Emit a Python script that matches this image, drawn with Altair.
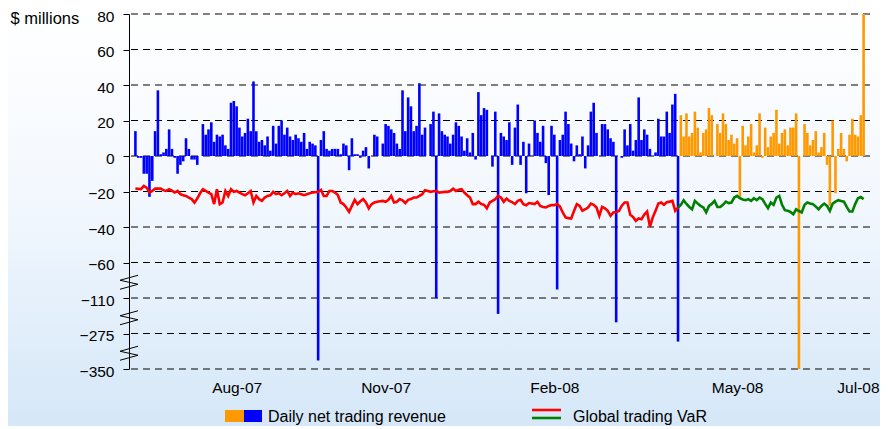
import altair as alt
import pandas as pd

# Daily net trading revenue ($ millions), one value per trading day
revenue = [
    14, -1, -1, -10, -10, -23, -14, 14, 37,
    1, 2, 4, 15, 4, -1, -10, -5, -3, 10,
    4, -2, -2, -5, 0, 18, 12, 15, 19, 8,
    12, 11, 12, 6, 4, 30, 31, 28, 16, 11,
    13, 21, 14, 42, 14, 8, 9, 6, 11, 3,
    17, 7, 17, 20, 12, 16, 11, 9, 12, 10,
    8,
    13, 4, 8, 7, 6, -332, 9, 14, 4, 3,
    4, 4, 4, 1, 7, 6, -8, 10, 1, 1,
    -1, 3, 5, -7, 0, 12, 11, 0, 7, 18,
    17, 15, 13, 7, 4, 37, 14, 33, 28, 14,
    17, 41, 12, 16, 0, 18, 25, -111, 24, 14,
    12, 11, 7, 12, 19, 17, 11, 3, 10, 2,
    13, -2, 36, 23, 27, 26, 0, -6, 25, -184,
    13, 11, 9, 19, -5, 16, 29, -5, 8, -21,
    7, 0, 20, 13, 8, 17, -4, -22, 17, 12,
    -98, 9, 12, 25, 18, 7, -3, 6, 1, 11,
    -7, 6, 25, 30, 13,
    0, 18, 18, 15, 10, 8, -223, 0, -1, 15,
    6, 18, 3, 9, 33, 9, 15, 12, 4, 0,
    2, 21, 11, 11, 25, 13, 29, 35, -292,
    23, 11, 24, 11, 13, 25, 16, 2, 13, 15,
    27, 23, 0, 18, 13, 24, 18, 9, 12, 7,
    10, -24, 17, 6, 11, 18, 2, 6, 24, -1,
    16, 5, 11, 13, 26, 7, 13, 15, 6, 16,
    16, 24, -350, 0, 18, 13, 6, 9, 14, 2,
    5, 13, -5, -28, 20, -21, 4, 13, 4, -3,
    12, 21, 12, 11, 23, 80,
]

# Global trading VaR ($ millions), one value per trading day
var = [
    -18.4, -18.5, -18.7, -16.9, -17.8, -20.6, -19.7, -18.4, -18.4, -18.4,
    -19.3, -19.7, -18.7, -19.5, -20.6, -19.7, -21.5, -22.1, -22.5, -23.4,
    -24.3, -26.2, -24.0, -21.0, -18.7, -19.7, -20.6, -21.5, -27.1, -18.7,
    -27.1, -26.2, -19.7, -22.5, -18.7, -20.2, -19.7, -20.6, -21.5, -22.1,
    -21.0, -19.7, -26.2, -22.5, -24.3, -25.3, -23.4, -22.5, -22.1, -20.2,
    -21.5, -21.0, -22.1, -21.0, -19.7, -22.5, -20.6, -21.5, -21.0, -21.5,
    -22.1, -21.5, -21.0, -20.6, -20.4, -20.2, -19.1, -22.5, -22.5, -19.7,
    -19.7, -20.6, -22.0, -26.2, -27.1, -29.0, -31.5, -28.1, -24.7, -27.1,
    -25.5, -24.3, -26.2, -29.5, -27.1, -26.2, -25.8, -25.5, -25.3, -25.8,
    -24.7, -22.5, -26.2, -25.8, -24.3, -25.0, -26.5, -24.7, -24.3, -23.4,
    -23.4, -22.5, -21.5, -19.3, -19.7, -20.2, -19.9, -19.7, -20.6, -20.4,
    -20.2, -20.2, -19.7, -18.4, -19.7, -19.0, -18.7, -20.6, -22.1, -23.4,
    -27.1, -27.1, -25.8, -27.1, -27.5, -29.5, -26.2, -25.3, -24.3,
    -22.5, -23.4, -25.8, -24.0, -25.3, -26.0, -27.1, -25.3, -24.7, -27.1,
    -27.7, -26.5, -26.8, -27.1, -25.8, -28.1, -28.7, -29.0, -28.1, -27.7,
    -27.7, -27.1, -28.5, -31.8, -34.6, -35.0, -35.2, -31.0, -27.1, -28.1,
    -30.9, -30.0, -29.0, -26.8, -27.5, -29.0, -33.7, -28.7, -29.5, -30.9,
    -33.7, -31.8, -31.5, -30.9, -28.0, -26.2, -26.2, -33.1, -34.3, -36.5,
    -35.2, -35.6, -33.0, -31.3, -39.9, -34.6, -30.9, -26.8, -26.2, -27.5,
    -26.0, -25.7, -25.3, -30.9, -29.0, -27.5, -24.9, -27.0, -28.7, -30.0,
    -25.3, -26.8, -28.1, -29.0, -31.8, -28.1, -27.0, -25.3, -28.7, -28.7,
    -27.5, -25.7, -26.5, -26.2, -23.4, -22.5, -23.8, -24.5, -24.9, -24.3,
    -25.3, -23.8, -24.9, -23.4, -24.3, -27.0, -29.4, -26.2, -27.5, -23.4,
    -22.5, -27.5, -30.5, -30.9, -31.5, -32.8, -30.0, -31.0, -31.8, -27.5,
    -26.2, -26.8, -27.1, -28.5, -30.0, -28.1, -26.8, -28.1, -30.9, -26.8,
    -25.7, -24.9, -25.3, -25.7, -28.7, -31.3, -31.3, -27.1, -23.8, -23.1,
    -24.3,
]

n_blue = 194  # trading days in the first (blue / red) period
tick_idx = [36, 89, 149, 214, 257]
tick_labels = ["Aug-07", "Nov-07", "Feb-08", "May-08", "Jul-08"]
y_ticks = [80, 60, 40, 20, 0, -20, -40, -60, -110, -275, -350]
y_knots = [-350, -275, -110, -60, 80]
breaks = [(-60, -110), (-110, -275), (-275, -350)]
legend_labels = ["Daily net trading revenue", "Global trading VaR"]

N = len(revenue)
W, H = 741, 355
PAD = {"left": 121, "top": 6, "right": 10, "bottom": 57}
step = H / 10.0
y_range = [H, H - step, H - 2 * step, H - 3 * step, 0]
FONT = "Liberation Sans"

days = list(range(N))
bars_df = pd.DataFrame({
    "day": days,
    "rev": revenue,
    "period": ["blue" if d < n_blue else "orange" for d in days],
})
line_df = pd.concat([
    pd.DataFrame({"day": days[:n_blue], "var": var[:n_blue], "series": "red"}),
    pd.DataFrame({"day": days[n_blue - 1:], "var": var[n_blue - 1:], "series": "green"}),
], ignore_index=True)
break_df = pd.DataFrame({"mid": [(a + b) / 2 for a, b in breaks]})
grid_df = pd.DataFrame({"v": y_ticks})
one = pd.DataFrame({"k": [0]})

xscale = alt.Scale(domain=[-0.5, N - 0.5], nice=False, zero=False)
yscale = alt.Scale(domain=y_knots, range=y_range, nice=False, zero=False)

label_expr = ("[" + ",".join("'%s'" % l for l in tick_labels) + "][indexof(["
              + ",".join(str(t) for t in tick_idx) + "], datum.value)]")
xaxis = alt.Axis(values=tick_idx, labelExpr=label_expr, domain=False, ticks=False,
                 grid=False, title=None, labelFontSize=15.5, labelPadding=11,
                 labelFlush=False, labelOverlap=False, labelColor="black",
                 labelFont=FONT, zindex=1)
yaxis = alt.Axis(values=y_ticks, grid=False, domainColor="black", domainWidth=1,
                 tickColor="black", tickSize=6, tickWidth=1, labelPadding=9,
                 labelFontSize=15.5, labelColor="black", labelFont=FONT,
                 labelOffset=2, labelOverlap=False, labelFlush=False,
                 title="$ millions", titleAngle=0, titleAlign="left",
                 titleBaseline="middle", titleX=-119, titleY=4,
                 titleFontSize=16.5, titleFontWeight="normal", titleColor="black",
                 titleFont=FONT, zindex=1)

bg = alt.Chart(one).mark_rect(
    color=alt.LinearGradient(
        gradient="linear",
        stops=[alt.GradientStop(color="#ffffff", offset=0),
               alt.GradientStop(color="#f3f8fe", offset=0.45),
               alt.GradientStop(color="#d5e7f8", offset=1)],
        x1=0, x2=0, y1=0, y2=1),
).encode(
    x=alt.value(-PAD["left"]), x2=alt.value(W + PAD["right"]),
    y=alt.value(-PAD["top"]), y2=alt.value(H + PAD["bottom"]),
)

grid = alt.Chart(grid_df).mark_rule(strokeDash=[7, 5], color="#000000", strokeWidth=1).encode(
    y=alt.Y("v:Q", scale=yscale, axis=yaxis)
)

bars = alt.Chart(bars_df).mark_bar(size=2.6).encode(
    x=alt.X("day:Q", scale=xscale, axis=xaxis),
    y=alt.Y("rev:Q", scale=yscale, axis=yaxis),
    y2=alt.datum(0),
    color=alt.Color("period:N", scale=alt.Scale(domain=["blue", "orange"],
                                                range=["#0000ff", "#ff9900"]), legend=None),
)

lines = alt.Chart(line_df).mark_line(strokeWidth=2.6).encode(
    x=alt.X("day:Q", scale=xscale, axis=xaxis),
    y=alt.Y("var:Q", scale=yscale, axis=yaxis),
    stroke=alt.Stroke("series:N", scale=alt.Scale(domain=["red", "green"],
                                                  range=["#ff0000", "#008000"]), legend=None),
)

zig = [(-9, 7, 9, 2), (9, 2, -9, -2), (-9, -2, 9, -7)]
zig_layers = []
for x1, dy1, x2, dy2 in zig:
    zig_layers.append(
        alt.Chart(break_df).mark_rule(color="black", strokeWidth=1,
                                      yOffset=dy1 + 2, y2Offset=dy2 + 2).encode(
            x=alt.value(x1), x2=alt.value(x2),
            y=alt.Y("mid:Q", scale=yscale, axis=yaxis), y2=alt.Y2("mid:Q"),
        )
    )

leg_orange = alt.Chart(one).mark_rect(color="#ff9900").encode(
    x=alt.value(96), x2=alt.value(115), y=alt.value(396), y2=alt.value(408))
leg_blue = alt.Chart(one).mark_rect(color="#0000ff").encode(
    x=alt.value(115), x2=alt.value(133), y=alt.value(396), y2=alt.value(408))
leg_text1 = alt.Chart(one).mark_text(align="left", baseline="alphabetic", fontSize=16,
                                     font=FONT, color="black").encode(
    x=alt.value(139), y=alt.value(408), text=alt.value(legend_labels[0]))
leg_red = alt.Chart(one).mark_rule(color="#ff0000", strokeWidth=2.6).encode(
    x=alt.value(403), x2=alt.value(432), y=alt.value(396))
leg_green = alt.Chart(one).mark_rule(color="#008000", strokeWidth=2.6).encode(
    x=alt.value(403), x2=alt.value(432), y=alt.value(404))
leg_text2 = alt.Chart(one).mark_text(align="left", baseline="alphabetic", fontSize=16,
                                     font=FONT, color="black").encode(
    x=alt.value(444), y=alt.value(408), text=alt.value(legend_labels[1]))

chart = alt.layer(
    bg, grid, bars, lines, *zig_layers,
    leg_orange, leg_blue, leg_text1, leg_red, leg_green, leg_text2,
).resolve_scale(color="independent", stroke="independent").properties(
    width=W, height=H, padding=PAD,
    autosize=alt.AutoSizeParams(type="none"),
    background="white",
).configure_view(stroke=None).configure(font=FONT)

chart.save("out.html", embed_options={"renderer": "svg", "actions": False})
